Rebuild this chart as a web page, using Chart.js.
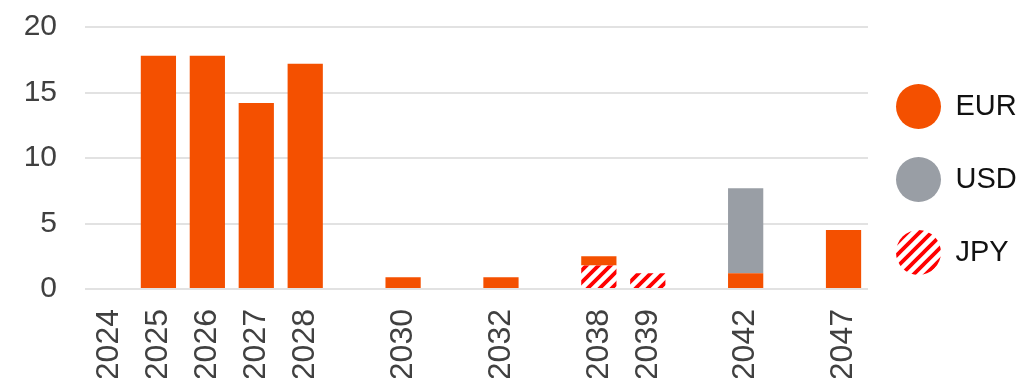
<!DOCTYPE html>
<html>
<head>
<meta charset="utf-8">
<script src="https://cdn.jsdelivr.net/npm/chart.js@4/dist/chart.umd.min.js"></script>
<style>
  html, body { margin: 0; padding: 0; background: #fff; overflow: hidden; }
  #wrap { width: 1022px; height: 378px; position: relative; }
</style>
</head>
<body>
<div id="wrap"><canvas id="maturityChart"></canvas></div>
<script>
// maturity years; blank slots keep the gaps between groups
const years = ['2024', '2025', '2026', '2027', '2028', '', '2030', '', '2032', '', '2038', '2039', '', '2042', '', '2047'];
const eurValues = [null, 17.8, 17.8, 14.2, 17.2, null, 0.9, null, 0.9, null, 0.7, null, null, 1.2, null, 4.5];
const usdValues = [null, null, null, null, null, null, null, null, null, null, null, null, null, 6.5, null, null];
const jpyValues = [null, null, null, null, null, null, null, null, null, null, 1.8, 1.2, null, null, null, null];
const yTicks = [0, 5, 10, 15, 20];
const legendOrder = ['EUR', 'USD', 'JPY'];

const ORANGE = '#f45000';
const GREY = '#999ea5';
const FONT = "'Liberation Sans', Arial, sans-serif";

// red diagonal stripes on white
function makeHatch() {
  const c = document.createElement('canvas');
  c.width = 12;
  c.height = 12;
  const g = c.getContext('2d');
  g.fillStyle = '#ffffff';
  g.fillRect(0, 0, 12, 12);
  g.strokeStyle = '#ff0000';
  g.lineWidth = 3.8;
  g.beginPath();
  g.moveTo(-3, 15); g.lineTo(15, -3);
  g.moveTo(-3, 3); g.lineTo(3, -3);
  g.moveTo(9, 15); g.lineTo(15, 9);
  g.stroke();
  return g.createPattern(c, 'repeat');
}

const ctx = document.getElementById('maturityChart').getContext('2d');
const hatch = makeHatch();

// JPY first so it sits at the bottom of the stack
const chart = new Chart(ctx, {
  type: 'bar',
  data: {
    labels: years,
    datasets: [
      { label: 'JPY', data: jpyValues, backgroundColor: hatch },
      { label: 'EUR', data: eurValues, backgroundColor: ORANGE },
      { label: 'USD', data: usdValues, backgroundColor: GREY }
    ]
  },
  options: {
    responsive: true,
    maintainAspectRatio: false,
    animation: false,
    events: [],
    layout: { padding: { top: 0, right: 0, bottom: 0, left: 0 } },
    plugins: {
      tooltip: { enabled: false },
      legend: {
        position: 'right',
        align: 'start',
        maxWidth: 154,
        // empty title only pushes the items down
        title: { display: true, text: ' ', font: { size: 10 }, padding: { top: 44, bottom: 0 } },
        labels: {
          boxWidth: 45,
          boxHeight: 45,
          padding: 28,
          useBorderRadius: true,
          borderRadius: 22.5,
          color: '#111111',
          font: { family: FONT, size: 29 },
          sort: (a, b) => legendOrder.indexOf(a.text) - legendOrder.indexOf(b.text),
          generateLabels: (ch) => {
            const items = Chart.defaults.plugins.legend.labels.generateLabels(ch);
            items.forEach(it => { it.lineWidth = 0; });
            return items;
          }
        }
      }
    },
    scales: {
      x: {
        stacked: true,
        grid: { display: false },
        border: { display: false },
        ticks: {
          autoSkip: false,
          minRotation: 90,
          maxRotation: 90,
          padding: 12,
          color: '#404040',
          font: { family: FONT, size: 32 }
        },
        afterFit: (scale) => { scale.height = 89; }
      },
      y: {
        stacked: true,
        min: yTicks[0],
        max: yTicks[yTicks.length - 1],
        afterBuildTicks: (scale) => { scale.ticks = yTicks.map(v => ({ value: v })); },
        grid: { color: '#e2e2e2', lineWidth: 2, drawTicks: false },
        border: { display: false },
        ticks: {
          padding: 28,
          color: '#404040',
          font: { family: FONT, size: 30 }
        },
        afterFit: (scale) => {
          scale.width = 85;
          scale.paddingTop = 27;
          scale.paddingBottom = 0;
        }
      }
    }
  }
});
</script>
</body>
</html>
